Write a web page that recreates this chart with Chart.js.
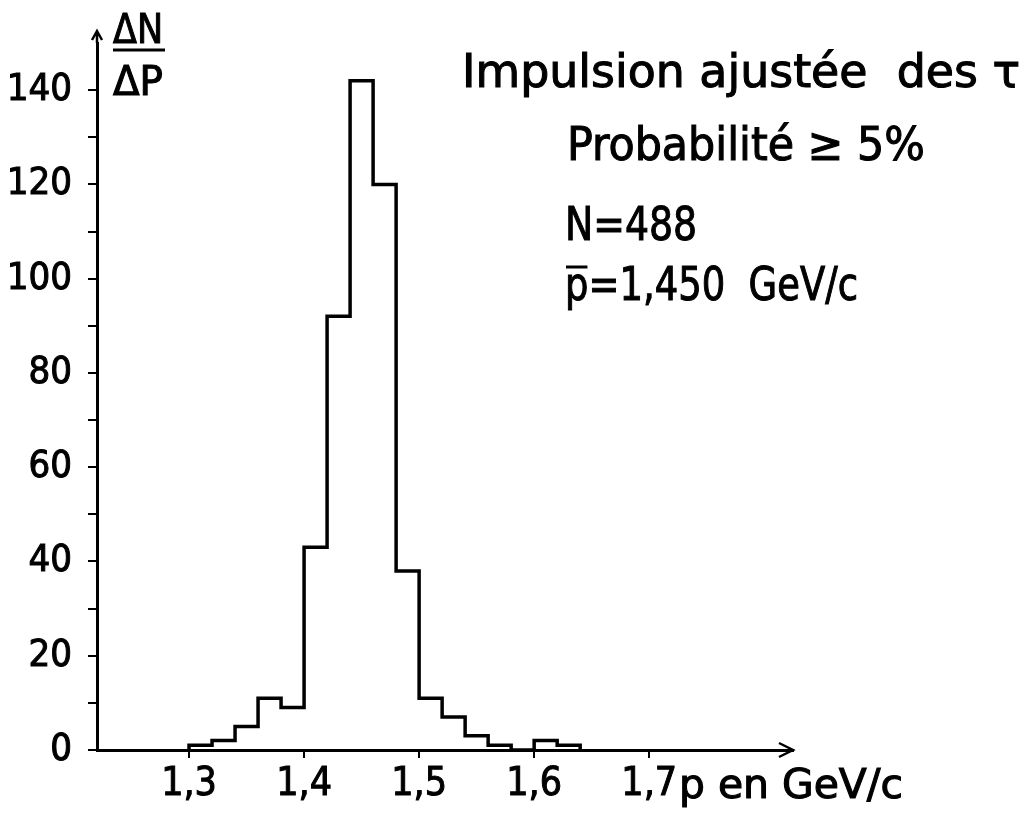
<!DOCTYPE html>
<html>
<head>
<meta charset="utf-8">
<script src="https://cdn.jsdelivr.net/npm/chart.js@4.4.1/dist/chart.umd.min.js"></script>
<style>
  body { margin: 0; background: #fff; }
  #wrap { width: 1024px; height: 817px; }
</style>
</head>
<body>
<div id="wrap"><canvas id="chart" width="1024" height="817"></canvas></div>
<script>
// Histogram data: lower edge of each bin (GeV/c) and counts
const binStarts = [1.30, 1.32, 1.34, 1.36, 1.38, 1.40, 1.42, 1.44, 1.46, 1.48, 1.50, 1.52, 1.54, 1.56, 1.58, 1.60, 1.62];
const binEnd = 1.64;
const counts = [1, 2, 5, 11, 9, 43, 92, 142, 120, 38, 11, 7, 3, 1, 0, 2, 1];

// Axis ticks
const xTicks = [1.3, 1.4, 1.5, 1.6, 1.7];
const yTicks = [0, 10, 20, 30, 40, 50, 60, 70, 80, 90, 100, 110, 120, 130, 140];
const yLabelled = [0, 20, 40, 60, 80, 100, 120, 140];

const FONT = "'DejaVu Sans Condensed', 'DejaVu Sans', sans-serif";

// Step outline points built from the bins
const outline = [{ x: binStarts[0], y: 0 }];
binStarts.forEach((x, i) => outline.push({ x: x, y: counts[i] }));
outline.push({ x: binEnd, y: 0 });

// Draw text squeezed to a given width (with a light stroke to thicken it)
function fitText(ctx, text, x, y, size, width) {
    ctx.font = size + "px " + FONT;
    const w = ctx.measureText(text).width;
    const s = width / w;
    ctx.save();
    ctx.translate(x, y);
    ctx.scale(s, 1);
    ctx.lineWidth = 1;
    ctx.fillText(text, 0, 0);
    ctx.strokeText(text, 0, 0);
    ctx.restore();
    return s;
}

const decorations = {
    id: "decorations",
    afterDraw(chart) {
        const ctx = chart.ctx;
        const area = chart.chartArea;
        ctx.save();
        ctx.fillStyle = "#000";
        ctx.strokeStyle = "#000";
        ctx.textBaseline = "alphabetic";
        ctx.textAlign = "left";

        // axis arrows
        ctx.lineWidth = 2.5;
        ctx.beginPath();
        ctx.moveTo(area.left, area.top);
        ctx.lineTo(area.left, area.top - 11);
        ctx.moveTo(area.left - 5, area.top - 3);
        ctx.lineTo(area.left, area.top - 12);
        ctx.lineTo(area.left + 5, area.top - 3);
        ctx.stroke();
        ctx.beginPath();
        ctx.moveTo(area.right - 14, area.bottom - 7);
        ctx.lineTo(area.right, area.bottom);
        ctx.lineTo(area.right - 14, area.bottom + 7);
        ctx.stroke();

        // y-axis title as a fraction
        fitText(ctx, "ΔN", 113, 43, 40, 50);
        ctx.lineWidth = 3;
        ctx.beginPath();
        ctx.moveTo(113, 50);
        ctx.lineTo(165, 50);
        ctx.stroke();
        fitText(ctx, "ΔP", 113, 95, 40, 50);

        // x-axis title
        fitText(ctx, "p en GeV/c", 679, 798, 40, 224);

        // annotations
        fitText(ctx, "Impulsion ajustée  des τ", 462, 87, 46, 558);
        fitText(ctx, "Probabilité ≥ 5%", 567, 160, 46, 358);
        fitText(ctx, "N=488", 565, 240, 46, 132);
        const s = fitText(ctx, "p=1,450  GeV/c", 565, 300, 46, 293);
        ctx.font = "46px " + FONT;
        const pw = ctx.measureText("p").width * s;
        ctx.lineWidth = 3;
        ctx.beginPath();
        ctx.moveTo(566, 267);
        ctx.lineTo(565 + pw - 1, 267);
        ctx.stroke();
        ctx.restore();
    }
};

new Chart(document.getElementById("chart"), {
    type: "line",
    data: {
        datasets: [{
            data: outline,
            stepped: "before",
            borderColor: "#000",
            borderWidth: 3.5,
            pointRadius: 0,
            fill: false,
            tension: 0
        }]
    },
    options: {
        responsive: false,
        animation: false,
        devicePixelRatio: 1,
        layout: { padding: { top: 43, right: 231, bottom: 0, left: 0 } },
        plugins: { legend: { display: false }, tooltip: { enabled: false } },
        scales: {
            x: {
                type: "linear",
                min: 1.22,
                max: 1.825,
                afterBuildTicks: (scale) => { scale.ticks = xTicks.map(v => ({ value: v })); },
                afterFit: (scale) => { scale.height = 67; },
                border: { display: true, color: "#000", width: 3 },
                grid: { drawOnChartArea: false, drawTicks: true, tickLength: 8, color: "#000", lineWidth: 2 },
                ticks: {
                    color: "#000",
                    padding: 3,
                    maxRotation: 0,
                    textStrokeColor: "#000",
                    textStrokeWidth: 1,
                    font: { family: FONT, size: 39 },
                    callback: (v) => v.toFixed(1).replace(".", ",")
                }
            },
            y: {
                min: 0,
                max: 150,
                afterBuildTicks: (scale) => { scale.ticks = yTicks.map(v => ({ value: v })); },
                afterFit: (scale) => { scale.width = 97; },
                border: { display: true, color: "#000", width: 3 },
                grid: { drawOnChartArea: false, drawTicks: true, tickLength: 9, color: "#000", lineWidth: 2 },
                ticks: {
                    color: "#000",
                    padding: 16,
                    textStrokeColor: "#000",
                    textStrokeWidth: 1,
                    font: { family: FONT, size: 38 },
                    callback: (v) => yLabelled.includes(v) ? String(v) : ""
                }
            }
        }
    },
    plugins: [decorations]
});
</script>
</body>
</html>
